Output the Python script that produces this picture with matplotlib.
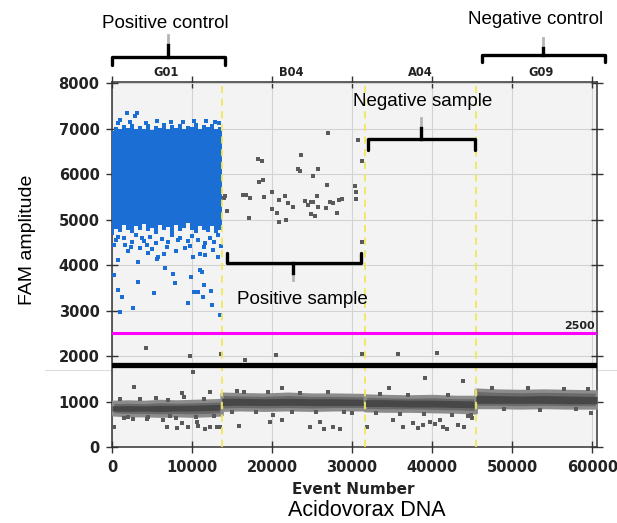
import matplotlib.pyplot as plt
from matplotlib.lines import Line2D

FIG_W, FIG_H = 617, 523

# wells along the event axis
well_names = ["G01", "B04", "A04", "G09"]
well_edges = [13700, 31600, 45450]
well_label_x = [6800, 22400, 38500, 53600]
threshold = 2500
baseline = 1800

# positive droplet cloud of the positive control (G01), edges of the dense block
pos_cloud_x = [0, 500, 1000, 1500, 2000, 2500, 3000, 3500, 4000, 4500,
               5000, 5500, 6000, 6500, 7000, 7500, 8000, 8500, 9000, 9500,
               10000, 10500, 11000, 11500, 12000, 12500, 13000, 13500, 13700]
pos_cloud_top = [6950, 7040, 6990, 7080, 7010, 7100, 6980, 7060, 7000, 7090,
                 6970, 7050, 7020, 7110, 6990, 7070, 7010, 7100, 6980, 7060,
                 7030, 7120, 7000, 7080, 7040, 7090, 6990, 7040, 6960]
pos_cloud_bottom = [4650, 4800, 4720, 4880, 4760, 4700, 4850, 4780, 4900, 4740,
                    4820, 4690, 4870, 4760, 4830, 4700, 4880, 4750, 4820, 4920,
                    4760, 4700, 4850, 4780, 4720, 4860, 4700, 4780, 4740]

# loose positive droplets of G01
pos_scatter_x = [1000, 1830, 2870, 3160, 290, 790, 1210, 3290, 5290, 2670,
                 1000, 6630, 7670, 7880, 9880, 11000, 11210, 10290, 10790, 11540,
                 12380, 11420, 9460, 12460, 13500, 710, 3210, 4540, 5790, 2380,
                 4330, 6830, 9130, 10170, 11630, 13290, 1630, 5580, 8290, 11630,
                 3710, 790,
                 500, 1500, 2500, 3000, 4000, 4800, 5500, 6200, 7000, 7500,
                 8500, 9500, 10000, 10800, 11500, 12200, 12800, 13300, 13600, 2000,
                 5000, 8000, 11000, 12600, 200, 6500, 9800, 3500,
                 700, 2200, 4200, 5600, 7400, 8900, 10300, 11800, 12900, 13400]
pos_scatter_y = [7187, 7330, 7275, 7350, 3780, 3450, 3300, 3630, 3380, 3050,
                 2975, 3927, 3802, 3612, 3743, 3890, 3853, 3414, 3414, 3560,
                 3436, 3304, 3158, 3121, 2901, 4110, 4059, 4257, 4183, 4403,
                 4440, 4403, 4367, 4183, 4220, 4183, 4440, 4125, 4549, 4476,
                 4586, 4622,
                 4550, 4600, 4500, 4650, 4520, 4620, 4480, 4580, 4500, 4650,
                 4600, 4520, 4640, 4560, 4400, 4600, 4500, 4650, 4420, 4300,
                 4350, 4300, 4250, 4320, 4450, 4250, 4420, 4380,
                 7120, 7150, 7130, 7160, 7140, 7150, 7170, 7160, 7140, 7110]

# negative droplet bands, one entry per well
band_x = [[0, 2000, 4000, 6000, 8000, 10000, 12000, 13700],
          [13700, 16000, 19000, 22000, 25000, 28000, 31600],
          [31600, 34000, 37000, 40000, 43000, 45450],
          [45450, 48000, 51000, 54000, 57000, 60600]]
band_lo = [[720, 700, 700, 690, 700, 690, 700, 720],
           [820, 830, 820, 830, 820, 830, 830],
           [810, 800, 800, 790, 780, 760],
           [880, 880, 870, 880, 870, 870]]
band_hi = [[990, 1000, 990, 1010, 1000, 1010, 1020, 1030],
           [1170, 1160, 1150, 1170, 1150, 1150, 1140],
           [1130, 1120, 1110, 1120, 1100, 1100],
           [1260, 1240, 1230, 1240, 1230, 1220]]
core_lo = [[790, 785, 790, 780, 790, 790, 800, 810],
           [910, 920, 910, 920, 910, 910, 910],
           [890, 890, 880, 880, 870, 860],
           [960, 960, 960, 960, 950, 950]]
core_hi = [[905, 910, 905, 915, 915, 920, 930, 940],
           [1070, 1070, 1060, 1070, 1060, 1060, 1050],
           [1040, 1040, 1030, 1030, 1020, 1010],
           [1140, 1130, 1120, 1130, 1120, 1110]]

# grey droplets: positives in B04 plus the outliers
neg_scatter_x = [26960, 30710, 31250, 23625, 18290, 18710, 23290, 23500, 25750, 25170,
                 18830, 18420, 26830, 30420, 30500, 30500, 20040, 14170, 14000, 16330,
                 16750, 17210, 18960, 21625, 20920, 21960, 24080, 24830, 24540, 25170,
                 25625, 25750, 22670, 20040, 20580, 27250, 27670, 28370, 28750, 26710,
                 28120, 17170, 20920, 21710, 24875, 25375, 14375, 31250,
                 4210, 9750, 13580, 16580, 20460, 10170, 2790, 12250, 8710,
                 31250, 35710, 40670, 39090, 43830, 34670, 21210, 15580,
                 250, 1500, 2670, 4330, 6420, 6830, 8170, 8710, 9540, 10790,
                 11630, 12250, 13080, 13500, 7250, 10580,
                 15920, 20170, 19750, 21210, 24750, 26500, 27670, 28500, 26000,
                 31920, 35080, 36420, 37670, 38290, 38920, 39750, 40380, 41420, 41830,
                 43290, 43920, 41000, 59830,
                 1000, 3500, 5500, 7000, 9000, 11500, 16500, 19500, 23500, 27000,
                 33500, 37000, 42000, 47500, 52000, 56500, 59500, 44500, 45000, 30000,
                 2000, 4500, 8000, 10500, 12800, 15000, 18000, 22500, 25500, 29000,
                 33000, 36000, 39000, 42500, 44800, 49000, 53500, 58000]
neg_scatter_y = [6894, 6747, 6293, 6410, 6323, 6286, 6110, 6073, 6110, 5949,
                 5861, 5817, 5751, 5729, 5604, 5451, 5612, 5516, 5466, 5531,
                 5531, 5473, 5502, 5524, 5429, 5363, 5407, 5385, 5319, 5385,
                 5524, 5282, 5268, 5231, 5143, 5392, 5356, 5429, 5444, 5260,
                 5136, 5026, 4945, 4989, 5128, 5070, 5187, 4505,
                 2176, 2000, 2051, 1912, 2015, 1648, 1311, 1216, 1179,
                 2051, 2037, 2073, 1509, 1450, 1289, 1289, 1237,
                 432, 630, 615, 615, 593, 432, 410, 535, 432, 461,
                 388, 432, 447, 447, 681, 557,
                 461, 703, 557, 593, 447, 388, 432, 388, 557,
                 447, 593, 447, 535, 410, 484, 557, 505, 447, 388,
                 484, 432, 593, 754,
                 1060, 1050, 1070, 1040, 1100, 1060, 1200, 1210, 1190, 1200,
                 1160, 1150, 1140, 1300, 1290, 1280, 1270, 680, 640, 740,
                 660, 650, 640, 660, 680, 770, 760, 780, 770, 760,
                 740, 730, 720, 710, 700, 830, 820, 830]

BLUE = "#1a6ed4"
GREY = "#5a5a5a"
SANS = "Liberation Sans"


def px(x, y):
    """figure pixel (from top-left) -> figure fraction"""
    return x / FIG_W, 1 - y / FIG_H


def bracket(ax, x0, x1, y, hook, xm, tip, shadow):
    ax.plot([x0, x0, x1, x1], [y + hook, y, y, y + hook], color="black", lw=2.4,
            solid_joinstyle="round", solid_capstyle="round", clip_on=False, zorder=8)
    ax.plot([xm, xm], [y, y + tip], color="black", lw=2.4, clip_on=False, zorder=8)
    ax.plot([xm, xm], [y + tip, y + tip + shadow], color="#b5b5b5", lw=2.0,
            clip_on=False, zorder=7)


fig = plt.figure(figsize=(FIG_W / 100, FIG_H / 100), dpi=100)
fig.add_artist(Line2D([45 / FIG_W, 1], [1 - 370 / FIG_H] * 2, color="#dedede",
                      lw=0.8, zorder=-1))

ax = fig.add_axes([112 / FIG_W, 76 / FIG_H, 485 / FIG_W, 365 / FIG_H])
ax.set_facecolor("#f3f3f3")
ax.set_xlim(0, 60600)
ax.set_ylim(0, 8022)

ax.set_xticks(range(0, 60001, 10000))
ax.set_yticks(range(0, 8001, 1000))
ax.grid(True, color="#d3d3d3", lw=0.8, zorder=0)
ax.set_axisbelow(True)
for s in ax.spines.values():
    s.set_color("#333333")
    s.set_linewidth(1.1)
ax.tick_params(axis="both", which="major", direction="inout", length=8, width=1,
               color="#333333", labelsize=10.5, pad=5)
ax.tick_params(top=True, right=True)
for lab in ax.get_xticklabels() + ax.get_yticklabels():
    lab.set_fontweight("bold")
    lab.set_color("#222222")

# negative droplet bands
for bx, lo, hi, clo, chi in zip(band_x, band_lo, band_hi, core_lo, core_hi):
    ax.fill_between(bx, lo, hi, facecolor="#6a6a6a", edgecolor="#8c8c8c", lw=2.5,
                    zorder=3)
    ax.fill_between(bx, clo, chi, color="#474747", lw=0, zorder=3)

# positive cloud of the positive control
ax.fill_between(pos_cloud_x, pos_cloud_bottom, pos_cloud_top, step="mid",
                color=BLUE, lw=0, zorder=3)
ax.scatter(pos_scatter_x, pos_scatter_y, s=8, marker="s", color=BLUE, lw=0, zorder=4)
ax.scatter(neg_scatter_x, neg_scatter_y, s=8, marker="s", color=GREY, lw=0, zorder=4)

# well separators, threshold and baseline
for xe in well_edges:
    ax.axvline(xe, color="#f0e85a", lw=1.3, ls=(0, (4, 3)), zorder=5)
ax.axhline(threshold, color="#ff00ff", lw=2.2, zorder=5)
ax.text(60350, threshold + 60, str(threshold), ha="right", va="bottom",
        fontsize=8, fontweight="bold", color="#222222", zorder=6)
ax.axhline(baseline, color="black", lw=3.8, zorder=6)

for name, xl in zip(well_names, well_label_x):
    ax.text(xl, 8220, name, ha="center", va="center", fontsize=8.3,
            fontweight="bold", color="#222222", clip_on=False)

# annotation brackets
bracket(ax, 0, 14125, 8572, -176, 7000, 264, 220)
bracket(ax, 46250, 61625, 8616, -154, 53875, 154, 220)
bracket(ax, 32000, 45375, 6770, -242, 38625, 242, 220)
bracket(ax, 14375, 31125, 4044, 220, 22625, -220, -150)

ax.text(38750, 7583, "Negative sample", ha="center", va="center", fontsize=13.5,
        family=SANS, zorder=9)
ax.text(23750, 3231, "Positive sample", ha="center", va="center", fontsize=13.5,
        family=SANS, zorder=9)

fig.text(*px(165, 23), "Positive control", ha="center", va="center", fontsize=13.5,
         family=SANS)
fig.text(*px(536, 20), "Negative control", ha="center", va="center", fontsize=13.5,
         family=SANS)
fig.text(*px(28, 240), "FAM amplitude", ha="center", va="center", rotation=90,
         fontsize=14, family=SANS)
fig.text(*px(353, 490), "Event Number", ha="center", va="center", fontsize=11,
         fontweight="bold", color="#222222")
fig.text(*px(367, 511), "Acidovorax DNA", ha="center", va="center", fontsize=15.5,
         family=SANS)

fig.savefig("out.png", dpi=100)
